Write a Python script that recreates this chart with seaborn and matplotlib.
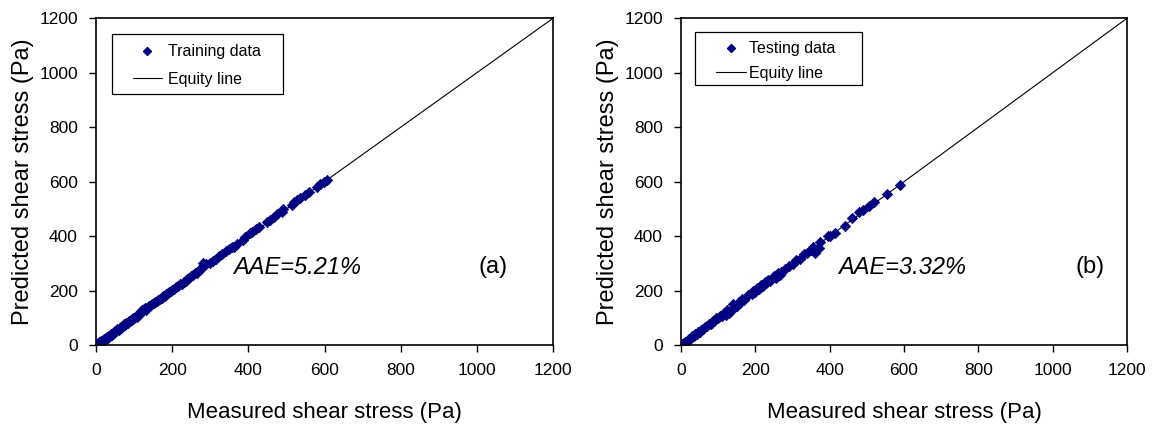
import numpy as np
import pandas as pd
import matplotlib
matplotlib.use("Agg")
import matplotlib.pyplot as plt
import seaborn as sns
from matplotlib.lines import Line2D
from matplotlib.patches import Rectangle

sns.set_style("white")
plt.rcParams['font.family'] = ['Liberation Sans', 'DejaVu Sans']
plt.rcParams['text.color'] = 'black'
plt.rcParams['axes.labelcolor'] = 'black'
plt.rcParams['xtick.color'] = 'black'
plt.rcParams['ytick.color'] = 'black'

# Datos (a) entrenamiento
train_meas = [1, 3, 5, 7, 9, 11, 13, 15, 17, 19, 21, 23, 25, 27, 29, 31, 33, 35,
              38, 41, 44, 47, 50, 53, 56, 59, 62, 65, 68, 71, 74, 77, 80, 83, 86,
              89, 92, 95, 98, 101, 104, 107, 110, 113, 116, 119, 122, 125, 128,
              131, 134, 137, 140, 144, 148, 152, 156, 160, 164, 168, 172, 176, 180,
              184, 188, 192, 196, 200, 205, 210, 215, 220, 225, 230, 235, 240, 245,
              250, 255, 260, 265, 270, 276, 282, 290, 298, 306, 314, 322, 330, 340,
              348, 356, 362, 370, 385, 392, 405, 410, 420, 428, 450, 458, 468, 475,
              488, 492, 515, 520, 528, 535, 548, 558, 580, 588, 598, 606]
train_pred = [2, 1, 7, 5, 11, 9, 15, 12, 19, 17, 23, 20, 27, 24, 31, 28, 35, 33,
              40, 39, 46, 45, 52, 51, 58, 57, 64, 63, 70, 69, 76, 75, 82, 81, 88,
              87, 94, 93, 100, 99, 106, 105, 112, 112, 118, 124, 130, 134, 136,
              128, 136, 140, 142, 147, 150, 155, 158, 163, 166, 171, 174, 179, 182,
              187, 190, 195, 198, 203, 207, 213, 217, 223, 226, 233, 236, 243, 246,
              254, 256, 264, 266, 275, 278, 300, 296, 303, 310, 318, 326, 334, 345,
              352, 360, 360, 372, 386, 398, 410, 415, 425, 432, 452, 460, 470, 480,
              490, 498, 515, 525, 532, 540, 550, 562, 582, 592, 600, 608]

# Datos (b) prueba
test_meas = [2, 5, 8, 12, 15, 18, 22, 26, 30, 34, 38, 42, 46, 50, 55, 60, 65, 70,
             75, 80, 85, 90, 95, 100, 105, 110, 115, 120, 125, 130, 135, 140, 150,
             155, 160, 165, 170, 180, 190, 195, 200, 205, 210, 215, 220, 225, 230,
             235, 240, 250, 255, 260, 265, 270, 280, 290, 300, 310, 320, 330, 340,
             350, 355, 360, 370, 375, 395, 400, 415, 440, 460, 480, 490, 505, 520,
             555, 590]
test_pred = [4, 3, 9, 11, 17, 16, 24, 25, 32, 33, 40, 41, 48, 49, 57, 58, 67, 69,
             78, 79, 88, 88, 98, 98, 108, 106, 118, 112, 128, 118, 125, 150, 145,
             160, 155, 170, 165, 184, 188, 200, 195, 210, 205, 220, 218, 230, 228,
             240, 235, 255, 248, 265, 258, 270, 278, 292, 298, 312, 318, 334, 338,
             350, 362, 340, 355, 380, 400, 402, 413, 437, 468, 488, 497, 510, 527,
             553, 588]

AXIS_MAX = 1200
equity = [0, AXIS_MAX]
COLOR = "#000080"

fig = plt.figure(figsize=(11.57, 4.24), dpi=100)
ax_a = fig.add_axes([0.083, 0.186, 0.395, 0.771])
ax_b = fig.add_axes([0.5886, 0.186, 0.3855, 0.771])

# (eje, x, y, etiqueta, aae, letra, pos aae, pos letra, caja leyenda, ancla, espaciado, largo, pad)
paneles = [
    (ax_a, train_meas, train_pred, "Training data", "AAE=5.21%", "(a)", 0.44, 0.869,
     (0.035, 0.768, 0.374, 0.183), (0.081, 0.92), 0.79, 1.8, 0.4),
    (ax_b, test_meas, test_pred, "Testing data", "AAE=3.32%", "(b)", 0.496, 0.917,
     (0.031, 0.795, 0.375, 0.162), (0.078, 0.93), 0.6, 1.9, 0.2),
]

for ax, xm, yp, etiqueta, aae, letra, xa, xl, caja, ancla, lsp, hl, htp in paneles:
    ax.plot(equity, equity, color="black", lw=0.8, zorder=1)
    df = pd.DataFrame({"med": xm, "pred": yp})
    sns.scatterplot(data=df, x="med", y="pred", ax=ax, marker="D", s=28,
                    color=COLOR, edgecolor=COLOR, linewidth=0.5, zorder=2)
    ax.set_xlim(0, AXIS_MAX)
    ax.set_ylim(0, AXIS_MAX)
    ax.set_xticks(np.arange(0, 1201, 200))
    ax.set_yticks(np.arange(0, 1201, 200))
    ax.tick_params(axis="both", direction="out", length=5, width=1, labelsize=12.5,
                   bottom=True, left=True, colors="black")
    ax.tick_params(axis="x", pad=8)
    ax.tick_params(axis="y", pad=8)
    for sp in ax.spines.values():
        sp.set_color("black")
        sp.set_linewidth(1.2)
    ax.set_xlabel("Measured shear stress (Pa)", fontsize=16, labelpad=17)
    ax.set_ylabel("Predicted shear stress (Pa)", fontsize=17, labelpad=4)
    ax.text(xa, 0.239, aae, transform=ax.transAxes, fontsize=17, style="italic",
            ha="center", va="center")
    ax.text(xl, 0.239, letra, transform=ax.transAxes, fontsize=17,
            ha="center", va="center")
    ax.add_patch(Rectangle((caja[0], caja[1]), caja[2], caja[3], transform=ax.transAxes,
                           fill=True, facecolor="white", edgecolor="black", lw=0.9,
                           zorder=3))
    handles = [
        Line2D([], [], color=COLOR, marker="D", ls="none", markersize=4.5),
        Line2D([], [], color="black", lw=0.8),
    ]
    leg = ax.legend(handles, [etiqueta, "Equity line"], loc="upper left",
                    bbox_to_anchor=ancla, fontsize=11.5, frameon=False,
                    borderpad=0, borderaxespad=0, handlelength=hl,
                    handletextpad=htp, labelspacing=lsp)
    leg.set_zorder(4)

fig.savefig("out.png", dpi=100)
